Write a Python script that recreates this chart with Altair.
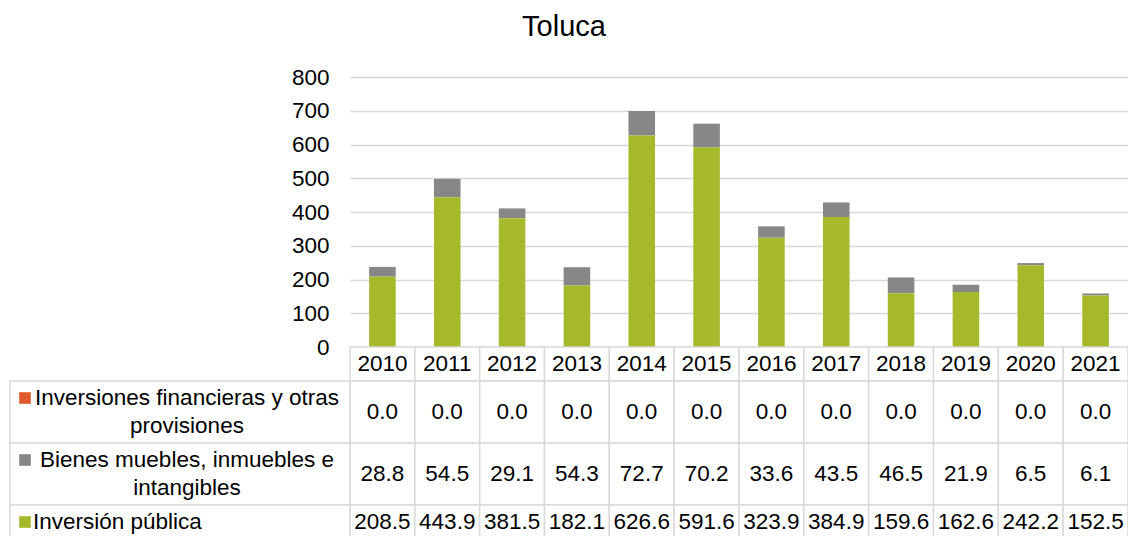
import altair as alt
import pandas as pd

# ---------------- data ----------------
title_text = "Toluca"
years = [2010, 2011, 2012, 2013, 2014, 2015, 2016, 2017, 2018, 2019, 2020, 2021]
series_names = [
    "Inversiones financieras y otras provisiones",
    "Bienes muebles, inmuebles e intangibles",
    "Inversión pública",
]
series_labels = [
    "Inversiones financieras y otras\nprovisiones",
    "Bienes muebles, inmuebles e\nintangibles",
    "Inversión pública",
]
series_colors = ["#E0592B", "#878787", "#A6B92B"]
inversiones_financieras = [0.0, 0.0, 0.0, 0.0, 0.0, 0.0, 0.0, 0.0, 0.0, 0.0, 0.0, 0.0]
bienes_muebles = [28.8, 54.5, 29.1, 54.3, 72.7, 70.2, 33.6, 43.5, 46.5, 21.9, 6.5, 6.1]
inversion_publica = [208.5, 443.9, 381.5, 182.1, 626.6, 591.6, 323.9, 384.9, 159.6, 162.6, 242.2, 152.5]
y_ticks = [0, 100, 200, 300, 400, 500, 600, 700, 800]
values_by_series = [inversiones_financieras, bienes_muebles, inversion_publica]

# ---------------- layout constants ----------------
FONT = "Liberation Sans"
FS = 22.5
W, H = 778, 270
HEADER_H = 34
LINE_H = 28
ROW_PAD = 6
GRID = "#D9D9D9"
year_str = [str(y) for y in years]

# bar data (long form)
bar_rows = []
for si, (name, vals) in enumerate(zip(series_names, values_by_series)):
    for y, v in zip(year_str, vals):
        bar_rows.append({"year": y, "series": name, "value": v, "stack_order": len(series_names) - 1 - si})
bars_df = pd.DataFrame(bar_rows)

# table geometry derived from the number of label lines
row_info = []
top = HEADER_H
for name, label in zip(series_names, series_labels):
    n = label.count("\n") + 1
    h = ROW_PAD + LINE_H * n
    row_info.append({"series": name, "label": label, "lines": n, "top": top,
                     "bottom": top + h, "mid": top + h / 2,
                     "first": top + ROW_PAD / 2 + LINE_H / 2})
    top += h
TABLE_H = top
rows_df = pd.DataFrame(row_info)

cell_rows = []
for y in year_str:
    cell_rows.append({"year": y, "top": 0, "bottom": HEADER_H, "mid": HEADER_H / 2, "txt": y})
for info, vals in zip(row_info, values_by_series):
    for y, v in zip(year_str, vals):
        cell_rows.append({"year": y, "top": info["top"], "bottom": info["bottom"],
                          "mid": info["mid"], "txt": f"{v:.1f}"})
cells_df = pd.DataFrame(cell_rows)

color_scale = alt.Scale(domain=series_names, range=series_colors)

# ---------------- bars ----------------
bars = alt.Chart(bars_df).mark_bar().encode(
    x=alt.X("year:N", sort=year_str,
            scale=alt.Scale(domain=year_str, paddingInner=0.59, paddingOuter=0.295),
            axis=None),
    y=alt.Y("value:Q", stack="zero",
            scale=alt.Scale(domain=[0, 800], nice=False),
            axis=alt.Axis(values=y_ticks, grid=True, gridColor=GRID, gridWidth=1.3,
                          domain=False, ticks=False, labelFontSize=FS, labelFont=FONT,
                          labelColor="#000000", labelPadding=21, title=None)),
    color=alt.Color("series:N", scale=color_scale, legend=None),
    order=alt.Order("stack_order:Q", sort="ascending"),
)

# ---------------- data table ----------------
tx = alt.X("year:N", sort=year_str,
           scale=alt.Scale(type="band", domain=year_str, paddingInner=0, paddingOuter=0),
           axis=None)
ty_scale = alt.Scale(domain=[0, TABLE_H], range=[H, H + TABLE_H], nice=False, zero=False)

cells = alt.Chart(cells_df).mark_rect(fill="white", stroke=GRID, strokeWidth=1.5).encode(
    x=tx,
    y=alt.Y("top:Q", scale=ty_scale, axis=None),
    y2="bottom:Q",
)
cell_text = alt.Chart(cells_df).mark_text(font=FONT, fontSize=FS, color="#000000",
                                          baseline="middle", align="center").encode(
    x=tx,
    y=alt.Y("mid:Q", scale=ty_scale, axis=None),
    text="txt:N",
)
label_cells = alt.Chart(rows_df).mark_rect(fill="white", stroke=GRID, strokeWidth=1.5).encode(
    x=alt.value(-340), x2=alt.value(0),
    y=alt.Y("top:Q", scale=ty_scale, axis=None),
    y2="bottom:Q",
)
# multi-line labels: first line sits on the row's first text line, following lines below
label_multi = alt.Chart(rows_df).transform_filter("datum.lines > 1").mark_text(
    font=FONT, fontSize=FS, color="#000000", baseline="middle", align="center",
    lineBreak="\n", lineHeight=LINE_H).encode(
    x=alt.value(-163),
    y=alt.Y("first:Q", scale=ty_scale, axis=None),
    text="label:N",
)
label_single = alt.Chart(rows_df).transform_filter("datum.lines == 1").mark_text(
    font=FONT, fontSize=FS, color="#000000", baseline="middle", align="left").encode(
    x=alt.value(-317),
    y=alt.Y("mid:Q", scale=ty_scale, axis=None),
    text="label:N",
)
markers = alt.Chart(rows_df).mark_square(size=135, opacity=1).encode(
    x=alt.value(-325),
    y=alt.Y("first:Q", scale=ty_scale, axis=None),
    color=alt.Color("series:N", scale=color_scale, legend=None),
)
title = alt.Chart(pd.DataFrame({"t": [title_text]})).mark_text(
    font=FONT, fontSize=29, color="#000000", align="center", baseline="alphabetic").encode(
    x=alt.value(214), y=alt.value(-41), text="t:N")

table = alt.layer(cells, label_cells, cell_text, label_multi, label_single, markers, title)

chart = alt.layer(bars, table).resolve_scale(
    x="independent", y="independent", color="independent"
).properties(
    width=W, height=H,
    padding={"left": 342, "top": 69, "right": 0, "bottom": 189},
    autosize=alt.AutoSizeParams(type="none"),
    background="white",
).configure_view(stroke=None)

chart.save("out.html", embed_options={"renderer": "svg", "actions": False})
